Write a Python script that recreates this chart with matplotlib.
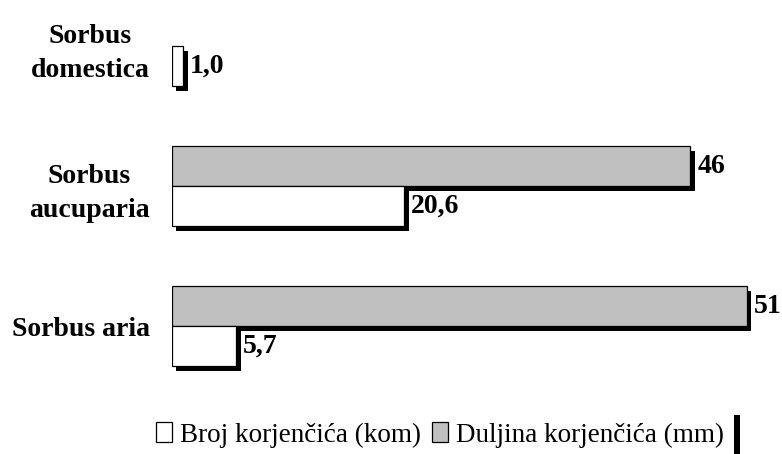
import matplotlib
matplotlib.use("Agg")
import matplotlib.pyplot as plt
import matplotlib.patheffects as pe
from matplotlib.patches import Rectangle, Patch
import numpy as np

categories = ["Sorbus aria", "Sorbus\naucuparia", "Sorbus\ndomestica"]
broj = [5.7, 20.6, 1.0]          # Broj korjenčića (kom)
duljina = [51, 46, None]         # Duljina korjenčića (mm)
broj_labels = ["5,7", "20,6", "1,0"]
duljina_labels = ["51", "46", ""]
series_names = ["Broj korjenčića (kom)", "Duljina korjenčića (mm)"]

plt.rcParams['font.family'] = ['Liberation Serif', 'DejaVu Serif']

W, H = 782, 454
fig = plt.figure(figsize=(W / 100, H / 100), dpi=100)
# axes placement in pixels
ax_left, ax_right = 172, 768
ax_top, ax_bottom = 4, 410
ax = fig.add_axes([ax_left / W, 1 - ax_bottom / H, (ax_right - ax_left) / W, (ax_bottom - ax_top) / H])

y = np.arange(len(categories))
h = 0.285
shadow = [pe.SimplePatchShadow(offset=(3.2, -3.4), shadow_rgbFace='black', alpha=1.0), pe.Normal()]

for i in range(len(categories)):
    if duljina[i] is not None:
        b = ax.barh(y[i], duljina[i], height=h, align='edge', color='#c0c0c0',
                    edgecolor='black', linewidth=0.9)
        for p in b:
            p.set_path_effects(shadow)
for i in range(len(categories)):
    b = ax.barh(y[i] - h, broj[i], height=h, align='edge', color='white',
                edgecolor='black', linewidth=0.9)
    for p in b:
        p.set_path_effects(shadow)

lab_kw = dict(fontsize=20, fontweight='bold', va='center', ha='left')
for i in range(len(categories)):
    if duljina[i] is not None:
        ax.annotate(duljina_labels[i], (duljina[i], y[i] + h / 2), xytext=(5, 0),
                    textcoords='offset points', annotation_clip=False, **lab_kw)
    ax.annotate(broj_labels[i], (broj[i], y[i] - h / 2), xytext=(5, 0),
                textcoords='offset points', annotation_clip=False, **lab_kw)

ax.set_xlim(0, 52.9)
ax.set_ylim(-0.6, 2.3)
ax.set_yticks(y)
ax.set_yticklabels(categories, fontsize=20, fontweight='bold', multialignment='center',
                   linespacing=1.45)
ax.tick_params(axis='y', length=0, pad=16)
ax.set_xticks([])
for s in ax.spines.values():
    s.set_visible(False)

handles = [Patch(facecolor='white', edgecolor='black', linewidth=0.9),
           Patch(facecolor='#c0c0c0', edgecolor='black', linewidth=0.9)]
leg = fig.legend(handles, series_names, loc='center', bbox_to_anchor=(440 / W, 1 - 435 / H),
                 ncol=2, frameon=False, fontsize=19.5, handlelength=0.6, handleheight=0.75,
                 handletextpad=0.3, columnspacing=0.4, borderpad=0)
fig.patches.append(Rectangle((734 / W, 0), 6 / W, 39 / H, transform=fig.transFigure,
                             facecolor='black', edgecolor='none'))

fig.savefig("out.png", dpi=100)
